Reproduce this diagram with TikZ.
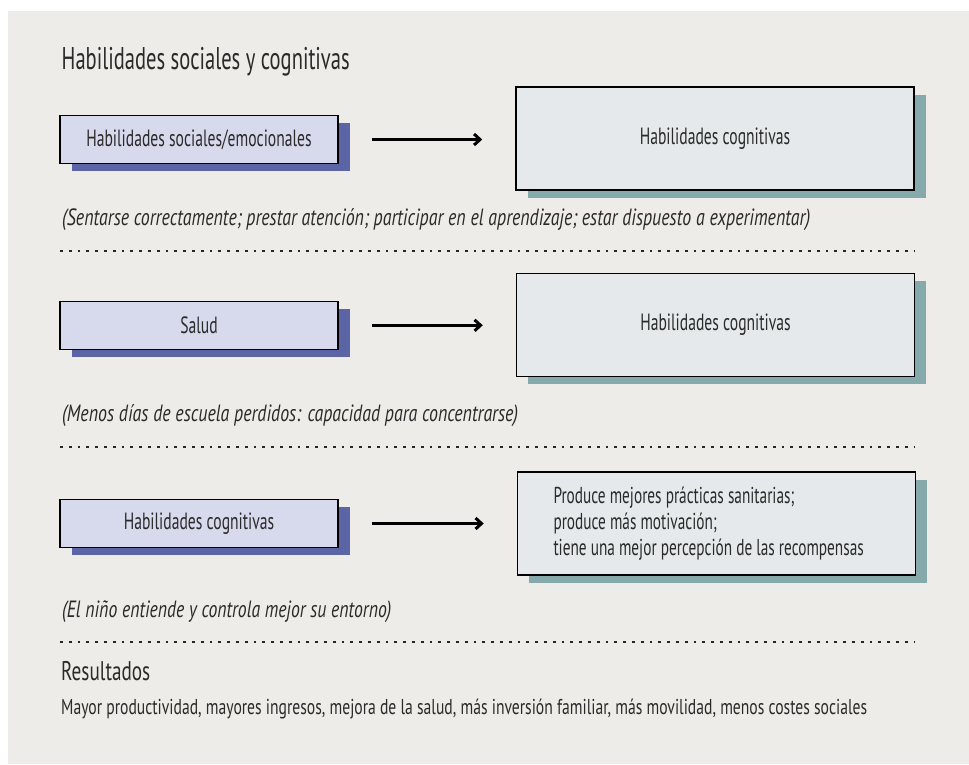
\documentclass[tikz,border=0pt]{standalone}
\usepackage{fontspec}
\setmainfont{PT Sans}[FakeStretch=0.665, ItalicFeatures={FakeStretch=0.76}]
\usetikzlibrary{shadows,arrows.meta}
\definecolor{bgc}{HTML}{EDECE8}
\definecolor{lfill}{HTML}{D7D9EC}
\definecolor{lshadow}{HTML}{5B65A5}
\definecolor{rfill}{HTML}{E5E9EB}
\definecolor{rshadow}{HTML}{86A9AC}
\definecolor{txt}{HTML}{2A2A2A}
\newcommand\fitto[2]{\resizebox{#1}{\height}{#2}}
\tikzset{
  boxbase/.style={draw=black, line width=1.5pt, text=txt, inner sep=0pt,
    font=\fontsize{23.5}{27}\selectfont},
  lbox/.style={boxbase, fill=lfill, minimum width=278pt, minimum height=48pt,
    drop shadow={shadow xshift=11.5pt, shadow yshift=-7.5pt, opacity=1, fill=lshadow}},
  rbox/.style={boxbase, fill=rfill, minimum width=398pt, minimum height=103pt,
    drop shadow={shadow xshift=11.5pt, shadow yshift=-7.5pt, opacity=1, fill=rshadow}},
  arr/.style={line width=3pt, -{Straight Barb[length=6pt,width=11pt,line width=3pt]}},
  sep/.style={line width=2.7pt, dash pattern=on 2.7pt off 6.1pt, color=black!85},
  title/.style={anchor=base west, inner sep=0pt, text=txt, font=\fontsize{31.4}{36}\selectfont},
  note/.style={anchor=base west, inner sep=0pt, text=txt, font=\fontsize{23.5}{27}\selectfont\itshape},
  body/.style={anchor=base west, inner sep=0pt, text=txt, font=\fontsize{21.5}{25}\selectfont},
}
\begin{document}
\begin{tikzpicture}[x=1pt,y=-1pt]
\useasboundingbox (0,0) rectangle (969,764);
\fill[white] (0,0) rectangle (969,764);
\fill[bgc] (8,11) rectangle (969,764);

\node[title] (t) at (61.5,69.3) {\fitto{288pt}{Habilidades sociales y cognitivas}};

% row 1
\node[lbox] (l1) at (199,139.5) {Habilidades sociales/emocionales};
\node[rbox] (r1) at (715,138.7) {Habilidades cognitivas};
\draw[arr] ([xshift=33pt]l1.east) -- ([xshift=-33pt]l1.east -| r1.west);
\node[note] (n1) at (62,225) {\fitto{748pt}{(Sentarse correctamente; prestar atención; participar en el aprendizaje; estar dispuesto a experimentar)}};
\coordinate (s1a) at (60,251); \coordinate (s1b) at (914,251);
\draw[sep] (s1a) -- (s1b);

% row 2
\node[lbox] (l2) at (199,325.3) {Salud};
\node[rbox] (r2) at (715.5,325) {Habilidades cognitivas};
\draw[arr] ([xshift=33pt]l2.east) -- ([xshift=-33pt]l2.east -| r2.west);
\node[note] (n2) at (62,421) {\fitto{456pt}{(Menos días de escuela perdidos: capacidad para concentrarse)}};
\coordinate (s2a) at (60,447); \coordinate (s2b) at (914,447);
\draw[sep] (s2a) -- (s2b);

% row 3
\node[lbox] (l3) at (199,523.5) {Habilidades cognitivas};
\node[rbox, text width=326pt, inner xsep=36pt, align=flush left, font=\fontsize{23}{26.3}\selectfont] (r3) at (716.5,523.6)
  {Produce mejores prácticas sanitarias;\\produce más motivación;\\tiene una mejor percepción de las recompensas};
\draw[arr] ([xshift=33pt]l3.east) -- ([xshift=-33pt]l3.east -| r3.west);
\node[note] (n3) at (62,617) {\fitto{329pt}{(El niño entiende y controla mejor su entorno)}};
\coordinate (s3a) at (60,642); \coordinate (s3b) at (914,642);
\draw[sep] (s3a) -- (s3b);

\node[title, font=\fontsize{27}{32}\selectfont] (res) at (61,680) {\fitto{89pt}{Resultados}};
\node[body] (b) at (61,714.5) {\fitto{806pt}{Mayor productividad, mayores ingresos, mejora de la salud, más inversión familiar, más movilidad, menos costes sociales}};
\end{tikzpicture}
\end{document}
